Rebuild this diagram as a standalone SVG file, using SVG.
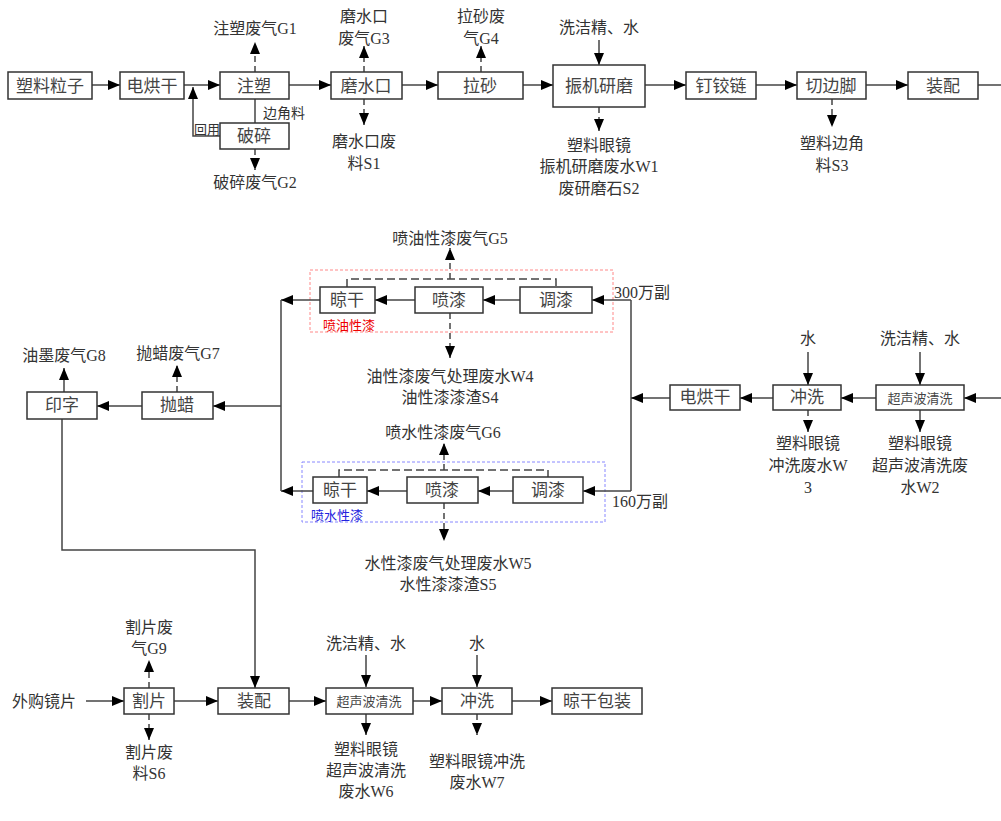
<svg xmlns="http://www.w3.org/2000/svg" width="1001" height="821" viewBox="0 0 1001 821">
<defs>
<marker id="ah" markerUnits="userSpaceOnUse" markerWidth="12" markerHeight="10" viewBox="0 0 12 10" refX="12" refY="5" orient="auto">
<path d="M0,0 L12,5 L0,10 Z" fill="#000"/>
</marker>
<style>
.box{fill:#fff;stroke:#333;stroke-width:1.5}
.bt{font-family:"Liberation Serif","Noto Sans CJK SC",serif;font-size:17px;fill:#444;text-anchor:middle;dominant-baseline:central}
.bs{font-family:"Liberation Serif","Noto Sans CJK SC",serif;font-size:13px;fill:#444;text-anchor:middle;dominant-baseline:central}
.lb{font-family:"Liberation Serif","Noto Sans CJK SC",serif;font-size:16px;fill:#333;text-anchor:middle;dominant-baseline:central}
.sm{font-family:"Liberation Serif","Noto Sans CJK SC",serif;font-size:13px;fill:#333;dominant-baseline:central}
.ln{fill:none;stroke:#444;stroke-width:1.5}
.ar{fill:none;stroke:#444;stroke-width:1.5;marker-end:url(#ah)}
.da{fill:none;stroke:#444;stroke-width:1.5;stroke-dasharray:6,4;marker-end:url(#ah)}
.dl{fill:none;stroke:#444;stroke-width:1.5;stroke-dasharray:8,4}
</style>
</defs>
<rect width="1001" height="821" fill="#fff"/>

<!-- group frames -->
<rect x="310" y="270" width="303" height="62" fill="none" stroke="#f88" stroke-width="1" stroke-dasharray="3,2"/>
<text x="323" y="325" class="sm" fill="#e00" style="fill:#e00">喷油性漆</text>
<rect x="302" y="462" width="303" height="60" fill="none" stroke="#88f" stroke-width="1" stroke-dasharray="3,2"/>
<text x="311" y="515" class="sm" style="fill:#22d">喷水性漆</text>

<g id="connectors">
<!-- top row -->
<path class="ar" d="M92,85 H120"/>
<path class="ar" d="M184,85 H220"/>
<path class="ar" d="M220,136 H193 V87"/>
<path class="ln" d="M255,99 V123"/>
<path class="da" d="M255,72 V42"/>
<path class="da" d="M255,149 V170"/>
<path class="ar" d="M288,85 H331"/>
<path class="da" d="M364,72 V46"/>
<path class="da" d="M364,99 V125"/>
<path class="ar" d="M402,85 H438"/>
<path class="da" d="M481,72 V46"/>
<path class="ar" d="M523,85 H553"/>
<path class="ar" d="M599,40 V65"/>
<path class="da" d="M599,107 V131"/>
<path class="ar" d="M645,85 H686"/>
<path class="ar" d="M756,85 H797"/>
<path class="da" d="M832,99 V127"/>
<path class="ar" d="M866,85 H908"/>
<path class="ln" d="M978,85 H1001"/>
<!-- middle: oil paint -->
<path class="ar" d="M631,300 H592"/>
<path class="ar" d="M520,300 H483"/>
<path class="ar" d="M415,300 H375"/>
<path class="ar" d="M320,300 H281"/>
<path class="dl" d="M347,287 V279 H556 V287"/>
<path class="da" d="M450,279 V248"/>
<path class="da" d="M450,313 V358"/>
<!-- middle: water paint -->
<path class="ar" d="M631,491 H583"/>
<path class="ar" d="M513,491 H478"/>
<path class="ar" d="M407,491 H367"/>
<path class="ar" d="M313,491 H281"/>
<path class="dl" d="M339,477 V470 H548 V477"/>
<path class="da" d="M444,470 V443"/>
<path class="da" d="M444,503 V541"/>
<!-- trunk lines -->
<path class="ln" d="M631,300 V491"/>
<path class="ln" d="M281,300 V491"/>
<path class="ar" d="M1001,398 H964"/>
<path class="ar" d="M876,398 H841"/>
<path class="ar" d="M773,398 H740"/>
<path class="ar" d="M670,398 H631"/>
<path class="ar" d="M808,352 V385"/>
<path class="ar" d="M920,352 V385"/>
<path class="da" d="M808,410 V432"/>
<path class="ar" d="M920,410 V432"/>
<path class="ar" d="M281,406 H213"/>
<path class="ar" d="M142,406 H97"/>
<path class="da" d="M177,392 V365"/>
<path class="ar" d="M64,392 V368"/>
<path class="ar" d="M62,419 V550 H255 V688"/>
<!-- bottom -->
<path class="ar" d="M86,701 H124"/>
<path class="da" d="M149,688 V660"/>
<path class="da" d="M149,714 V740"/>
<path class="ar" d="M174,701 H218"/>
<path class="ar" d="M289,701 H326"/>
<path class="ar" d="M366,655 V687"/>
<path class="ar" d="M366,714 V735"/>
<path class="ar" d="M413,701 H442"/>
<path class="ar" d="M477,655 V687"/>
<path class="da" d="M477,714 V735"/>
<path class="ar" d="M512,701 H552"/>
</g>

<!-- top row nodes -->
<g id="n-suliaolizi"><rect class="box" x="8" y="72" width="84" height="27"/><text class="bt" x="50" y="86">塑料粒子</text></g>
<g id="n-diankonggan1"><rect class="box" x="120" y="72" width="64" height="27"/><text class="bt" x="152" y="86">电烘干</text></g>
<g id="n-zhusu"><rect class="box" x="220" y="72" width="69" height="27"/><text class="bt" x="254" y="86">注塑</text></g>
<g id="n-posui"><rect class="box" x="220" y="123" width="69" height="26"/><text class="bt" x="254" y="136">破碎</text></g>
<g id="n-moshuikou"><rect class="box" x="331" y="72" width="71" height="27"/><text class="bt" x="366" y="86">磨水口</text></g>
<g id="n-lasha"><rect class="box" x="438" y="72" width="85" height="27"/><text class="bt" x="480" y="86">拉砂</text></g>
<g id="n-zhenji"><rect class="box" x="553" y="65" width="92" height="42"/><text class="bt" x="599" y="86">振机研磨</text></g>
<g id="n-dingjiaolian"><rect class="box" x="686" y="72" width="70" height="27"/><text class="bt" x="721" y="86">钉铰链</text></g>
<g id="n-qiebianjiao"><rect class="box" x="797" y="72" width="69" height="27"/><text class="bt" x="831" y="86">切边脚</text></g>
<g id="n-zhuangpei1"><rect class="box" x="908" y="72" width="70" height="27"/><text class="bt" x="943" y="86">装配</text></g>

<!-- oil paint nodes -->
<g id="n-lianggan1"><rect class="box" x="320" y="287" width="55" height="26"/><text class="bt" x="347" y="300">晾干</text></g>
<g id="n-penqi1"><rect class="box" x="415" y="287" width="68" height="26"/><text class="bt" x="449" y="300">喷漆</text></g>
<g id="n-tiaoqi1"><rect class="box" x="520" y="287" width="72" height="26"/><text class="bt" x="556" y="300">调漆</text></g>
<!-- water paint nodes -->
<g id="n-lianggan2"><rect class="box" x="313" y="477" width="54" height="26"/><text class="bt" x="340" y="490">晾干</text></g>
<g id="n-penqi2"><rect class="box" x="407" y="477" width="71" height="26"/><text class="bt" x="442" y="490">喷漆</text></g>
<g id="n-tiaoqi2"><rect class="box" x="513" y="477" width="70" height="26"/><text class="bt" x="548" y="490">调漆</text></g>

<!-- right middle nodes -->
<g id="n-diankonggan2"><rect class="box" x="670" y="385" width="70" height="25"/><text class="bt" x="705" y="397">电烘干</text></g>
<g id="n-chongxi1"><rect class="box" x="773" y="385" width="68" height="25"/><text class="bt" x="807" y="397">冲洗</text></g>
<g id="n-chaosheng1"><rect class="box" x="876" y="385" width="88" height="25"/><text class="bs" x="920" y="398">超声波清洗</text></g>
<!-- left middle nodes -->
<g id="n-paola"><rect class="box" x="142" y="392" width="71" height="27"/><text class="bt" x="177" y="405">抛蜡</text></g>
<g id="n-yinzi"><rect class="box" x="27" y="392" width="70" height="27"/><text class="bt" x="62" y="405">印字</text></g>

<!-- bottom nodes -->
<g id="n-gepian"><rect class="box" x="124" y="688" width="50" height="26"/><text class="bt" x="149" y="701">割片</text></g>
<g id="n-zhuangpei2"><rect class="box" x="218" y="688" width="71" height="26"/><text class="bt" x="254" y="701">装配</text></g>
<g id="n-chaosheng2"><rect class="box" x="326" y="688" width="87" height="26"/><text class="bs" x="369" y="701">超声波清洗</text></g>
<g id="n-chongxi2"><rect class="box" x="442" y="688" width="70" height="26"/><text class="bt" x="477" y="701">冲洗</text></g>
<g id="n-liangganbaozhuang"><rect class="box" x="552" y="688" width="90" height="26"/><text class="bt" x="597" y="701">晾干包装</text></g>

<!-- labels -->
<g id="labels">
<text class="lb" x="255" y="28">注塑废气G1</text>
<text class="sm" x="194" y="129" style="font-size:13px">回用</text>
<text class="sm" x="263" y="113" style="font-size:14px">边角料</text>
<text class="lb" x="255" y="182">破碎废气G2</text>
<text class="lb" x="364" y="16">磨水口</text>
<text class="lb" x="364" y="38">废气G3</text>
<text class="lb" x="364" y="141">磨水口废</text>
<text class="lb" x="364" y="163">料S1</text>
<text class="lb" x="481" y="16">拉砂废</text>
<text class="lb" x="481" y="38">气G4</text>
<text class="lb" x="599" y="27">洗洁精、水</text>
<text class="lb" x="599" y="145">塑料眼镜</text>
<text class="lb" x="599" y="166">振机研磨废水W1</text>
<text class="lb" x="599" y="188">废研磨石S2</text>
<text class="lb" x="832" y="143">塑料边角</text>
<text class="lb" x="832" y="165">料S3</text>

<text class="lb" x="450" y="238">喷油性漆废气G5</text>
<text class="lb" x="614" y="292" style="text-anchor:start">300万副</text>
<text class="lb" x="450" y="376">油性漆废气处理废水W4</text>
<text class="lb" x="450" y="397">油性漆漆渣S4</text>
<text class="lb" x="443" y="432">喷水性漆废气G6</text>
<text class="lb" x="612" y="501" style="text-anchor:start">160万副</text>
<text class="lb" x="448" y="563">水性漆废气处理废水W5</text>
<text class="lb" x="448" y="584">水性漆漆渣S5</text>

<text class="lb" x="178" y="353">抛蜡废气G7</text>
<text class="lb" x="64" y="355">油墨废气G8</text>
<text class="lb" x="808" y="338">水</text>
<text class="lb" x="920" y="338">洗洁精、水</text>
<text class="lb" x="808" y="443">塑料眼镜</text>
<text class="lb" x="808" y="465">冲洗废水W</text>
<text class="lb" x="808" y="487">3</text>
<text class="lb" x="920" y="443">塑料眼镜</text>
<text class="lb" x="920" y="465">超声波清洗废</text>
<text class="lb" x="920" y="487">水W2</text>

<text class="lb" x="149" y="627">割片废</text>
<text class="lb" x="149" y="648">气G9</text>
<text class="lb" x="44" y="701">外购镜片</text>
<text class="lb" x="149" y="752">割片废</text>
<text class="lb" x="149" y="773">料S6</text>
<text class="lb" x="366" y="643">洗洁精、水</text>
<text class="lb" x="477" y="643">水</text>
<text class="lb" x="366" y="749">塑料眼镜</text>
<text class="lb" x="366" y="770">超声波清洗</text>
<text class="lb" x="366" y="791">废水W6</text>
<text class="lb" x="477" y="761">塑料眼镜冲洗</text>
<text class="lb" x="477" y="782">废水W7</text>
</g>
</svg>
